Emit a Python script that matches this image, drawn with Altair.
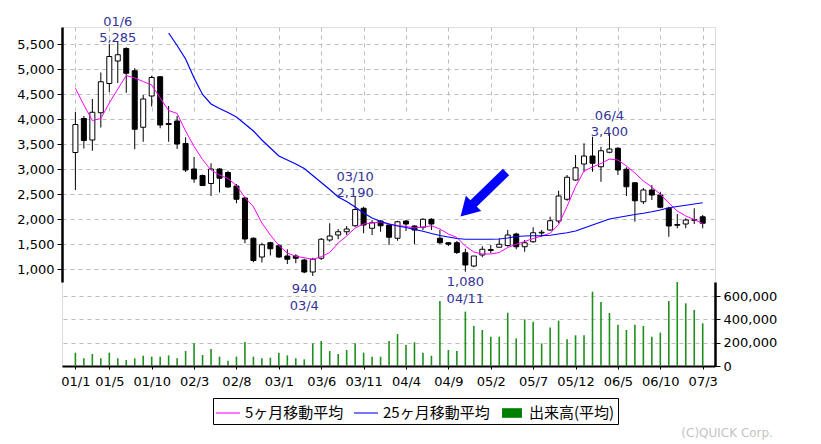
import altair as alt
import pandas as pd

# ---------------- data ----------------
months = []
for i in range(75):
    months.append(f"{1 + i // 12:02d}/{1 + i % 12}")

tick_labels = ["01/1", "01/5", "01/10", "02/3", "02/8", "03/1", "03/6", "03/11",
               "04/4", "04/9", "05/2", "05/7", "05/12", "06/5", "06/10", "07/3"]

opens = [3330, 4010, 3580, 4125, 4710, 5160, 5410, 4965, 3835, 4460,
         4845, 3910, 3960, 3510, 3000, 2870, 2710, 3000, 2930, 2660,
         2420, 1615, 1240, 1526, 1466, 1260, 1260, 1180, 940, 1215,
         1580, 1680, 1745, 1865, 2215, 1815, 1960, 1880, 1615, 1960,
         1860, 1835, 1995, 1615, 1525, 1525, 1325, 1060, 1280, 1370,
         1435, 1470, 1700, 1445, 1545, 1720, 1780, 1960, 2395, 2780,
         3100, 3260, 3045, 3335, 3415, 2995, 2725, 2345, 2580, 2480,
         2215, 1890, 1900, 1975, 2045]
highs = [4140, 4060, 4400, 4930, 5500, 5540, 5435, 5015, 4480, 4865,
         4860, 4260, 4060, 3635, 3240, 2890, 3115, 3015, 2965, 2700,
         2445, 1635, 1525, 1545, 1500, 1395, 1295, 1205, 1225, 1620,
         1915, 1800, 1860, 2445, 2245, 1980, 1980, 1895, 1965, 1980,
         1875, 2015, 2015, 1780, 1540, 1560, 1405, 1260, 1455, 1480,
         1615, 1780, 1725, 1580, 1835, 1780, 2045, 2565, 2880, 3280,
         3515, 3645, 3445, 3715, 3435, 3035, 2730, 2620, 2680, 2545,
         2245, 2100, 2015, 2215, 2080]
lows = [2580, 3410, 3365, 3830, 4540, 4720, 4525, 3395, 3545, 4250,
        3815, 3545, 3400, 2940, 2725, 2665, 2460, 2530, 2625, 2315,
        1515, 1135, 1130, 1270, 1220, 1100, 1115, 915, 860, 1180,
        1545, 1595, 1680, 1845, 1715, 1680, 1745, 1480, 1565, 1760,
        1495, 1780, 1780, 1500, 1460, 1300, 945, 1035, 1235, 1315,
        1435, 1445, 1395, 1345, 1525, 1645, 1765, 1915, 2365, 2765,
        2945, 2945, 2745, 3315, 2880, 2460, 1945, 2300, 2380, 2215,
        1645, 1815, 1815, 1900, 1815]
closes = [3890, 3570, 4135, 4745, 5250, 5285, 4915, 3795, 4400, 4830,
          3880, 3890, 3500, 2980, 2800, 2670, 3000, 2815, 2640, 2395,
          1600, 1170, 1485, 1405, 1240, 1195, 1215, 940, 1195, 1595,
          1660, 1745, 1800, 2190, 1880, 1925, 1865, 1635, 1945, 1900,
          1780, 1995, 1900, 1525, 1495, 1330, 1080, 1260, 1395, 1390,
          1495, 1680, 1445, 1525, 1725, 1735, 1965, 2460, 2835, 3025,
          3260, 3115, 3365, 3400, 2980, 2645, 2365, 2580, 2480, 2235,
          1860, 1875, 1980, 1985, 1915]
ma5 = [4613, 4280, 3970, 4010, 4320, 4600, 4870, 4820, 4750, 4680,
       4420, 4170, 4110, 3760, 3450, 3190, 2980, 2880, 2810, 2670,
       2430, 2246, 1920, 1680, 1470, 1320, 1255, 1225, 1195, 1245,
       1330, 1520, 1660, 1820, 1900, 1920, 1940, 1900, 1870, 1850,
       1820, 1840, 1865, 1800, 1700, 1630, 1460, 1340, 1300, 1300,
       1330, 1430, 1495, 1550, 1610, 1660, 1715, 1890, 2250, 2650,
       2960, 3040, 3110, 3200, 3180, 3060, 2920, 2760, 2640, 2495,
       2320, 2160, 2060, 1990, 1910]
ma25_start = 11
ma25 = [5720, 5470, 5200, 4820, 4490, 4300, 4210, 4130, 4040,
        3900, 3760, 3580, 3420, 3260, 3180, 3100, 3010, 2870, 2730,
        2590, 2440, 2350, 2240, 2120, 2020, 1950, 1900, 1860, 1830,
        1790, 1755, 1710, 1670, 1640, 1610, 1595, 1595, 1595, 1595,
        1600, 1620, 1650, 1660, 1665, 1668, 1675, 1700, 1725, 1760,
        1820, 1880, 1940, 2000, 2030, 2060, 2090, 2115, 2145, 2180,
        2225, 2250, 2275, 2300, 2325]
volume = [114, 66, 103, 66, 114, 66, 51, 66, 88, 80,
          80, 91, 66, 128, 194, 94, 146, 80, 46, 80,
          206, 80, 66, 71, 114, 91, 66, 57, 194, 214,
          128, 103, 137, 194, 114, 80, 80, 214, 274, 180,
          203, 114, 88, 557, 137, 128, 466, 343, 309, 251,
          251, 457, 237, 400, 380, 194, 331, 389, 229, 263,
          263, 637, 549, 454, 354, 309, 354, 343, 251, 286,
          557, 720, 537, 480, 366]  # thousands of shares

high_notes_idx = [5, 33, 63]
high_notes_date = ["01/6", "03/10", "06/4"]
high_notes_val = ["5,285", "2,190", "3,400"]
low_notes_idx = [27, 46]
low_notes_date = ["03/4", "04/11"]
low_notes_val = ["940", "1,080"]

arrow_shaft_x = [50.8, 46.6]
arrow_shaft_y = [2940, 2250]
arrow_head_x = [46.2]
arrow_head_y = [2182]

series_names = ["5ヶ月移動平均", "25ヶ月移動平均", "出来高(平均)"]
series_colors = ["#FF00FF", "#0000FF", "#008000"]

# ---------------- frames ----------------
n = len(months)
candles = pd.DataFrame({"idx": list(range(n)), "open": opens, "high": highs,
                        "low": lows, "close": closes, "ma5": ma5,
                        "vol": [v * 1000 for v in volume]})
ma25_df = pd.DataFrame({"idx": list(range(ma25_start, ma25_start + len(ma25))), "ma25": ma25})
hi_df = pd.DataFrame({"idx": high_notes_idx, "close": [closes[i] for i in high_notes_idx],
                      "d": high_notes_date, "v": high_notes_val})
lo_df = pd.DataFrame({"idx": low_notes_idx, "close": [closes[i] for i in low_notes_idx],
                      "d": low_notes_date, "v": low_notes_val})
shaft_df = pd.DataFrame({"idx": arrow_shaft_x, "p": arrow_shaft_y})
head_df = pd.DataFrame({"idx": arrow_head_x, "p": arrow_head_y})
legend_df = pd.DataFrame({"series": series_names, "idx": [0, 0, 0], "p": [-10000, -10000, -10000]})
copy_df = pd.DataFrame({"t": ["(C)QUICK Corp."]})

# ---------------- scales / axes ----------------
FONT = "DejaVu Sans"
GRID = "#bdbdbd"
label_expr = "[" + ",".join(f"'{m}'" for m in months) + "][datum.value]"
tick_idx = [months.index(t) for t in tick_labels]

xscale = alt.Scale(domain=[-0.99, 74.86], nice=False, zero=False)
xaxis = alt.Axis(values=tick_idx, labelExpr=label_expr, grid=True, gridColor=GRID,
                 gridDash=[4, 4], gridWidth=1, domainColor="black", domainWidth=2,
                 ticks=True, tickColor="black", tickSize=3, labelFont=FONT,
                 labelFontSize=13, labelColor="black", labelPadding=6,
                 labelOverlap=False, labelFlush=False, title=None)
X = alt.X("idx:Q", scale=xscale, axis=xaxis, title=None)

pscale = alt.Scale(domain=[740, 5840], range=[255, 0], nice=False, zero=False)
paxis = alt.Axis(orient="left", values=list(range(1000, 5501, 500)), format=",d",
                 grid=True, gridColor=GRID, gridDash=[4, 4], gridWidth=1,
                 domainColor="black", domainWidth=2.5, tickColor="black", tickSize=5,
                 labelFont=FONT, labelFontSize=13, labelColor="black", labelPadding=3,
                 title=None)


def PY(field):
    return alt.Y(field, scale=pscale, axis=paxis, title=None)


vscale = alt.Scale(domain=[0, 720000], range=[339, 255], nice=False)
vaxis = alt.Axis(orient="right", values=[0, 200000, 400000, 600000], format=",d",
                 grid=True, gridColor=GRID, gridDash=[4, 4], gridWidth=1,
                 domainColor="black", domainWidth=2.5, tickColor="black", tickSize=5,
                 labelFont=FONT, labelFontSize=13, labelColor="black", labelPadding=3,
                 title=None)

# ---------------- price layers ----------------
wicks = alt.Chart(candles).mark_rule(color="black", strokeWidth=1).encode(
    x=X, y=PY("low:Q"), y2="high:Q")
bodies = alt.Chart(candles).mark_bar(size=5, stroke="black", strokeWidth=1).encode(
    x=X, y=PY("open:Q"), y2="close:Q",
    fill=alt.condition("datum.close >= datum.open", alt.value("white"), alt.value("black")))
line5 = alt.Chart(candles).mark_line(color="#FF00FF", strokeWidth=1).encode(
    x=X, y=PY("ma5:Q"))
line25 = alt.Chart(ma25_df).mark_line(color="#0000FF", strokeWidth=1.2).encode(
    x=X, y=PY("ma25:Q"))

ann_color = "#333399"
hi_v = alt.Chart(hi_df).mark_text(font=FONT, fontSize=13, color=ann_color, dy=-13,
                                  baseline="alphabetic", align="center").encode(
    x=X, y=PY("close:Q"), text="v:N")
hi_d = alt.Chart(hi_df).mark_text(font=FONT, fontSize=13, color=ann_color, dy=-29,
                                  baseline="alphabetic", align="center").encode(
    x=X, y=PY("close:Q"), text="d:N")
lo_v = alt.Chart(lo_df).mark_text(font=FONT, fontSize=13, color=ann_color, dy=21,
                                  baseline="alphabetic", align="center").encode(
    x=X, y=PY("close:Q"), text="v:N")
lo_d = alt.Chart(lo_df).mark_text(font=FONT, fontSize=13, color=ann_color, dy=38,
                                  baseline="alphabetic", align="center").encode(
    x=X, y=PY("close:Q"), text="d:N")

shaft = alt.Chart(shaft_df).mark_line(color="#0000FF", strokeWidth=9, strokeCap="butt").encode(
    x=X, y=PY("p:Q"))
head = alt.Chart(head_df).mark_point(shape="M0,-0.85L1,0.85L-1,0.85Z", size=470, angle=225,
                                     filled=True, color="#0000FF", opacity=1).encode(
    x=X, y=PY("p:Q"))

leg = alt.Legend(orient="none", legendX=151, legendY=371, direction="horizontal", title=None,
                 labelFont="Noto Sans CJK JP", labelFontSize=15, labelColor="black",
                 labelExpr="datum.value == '出来高(平均)' ? '出来高(平均)' + '\u00a0\u00a0\u00a0\u00a0\u00a0\u00a0\u00a0\u00a0\u00a0' : datum.label",
                 symbolSize=576, symbolStrokeWidth=0, padding=3, columnPadding=10,
                 labelOffset=5, labelLimit=300, strokeColor="black", fillColor="white")
line_sym = "M-1,-0.045H1V0.045H-1Z"
dummy = alt.Chart(legend_df).mark_point(filled=True, opacity=1, clip=True).encode(
    x=X, y=PY("p:Q"),
    color=alt.Color("series:N", scale=alt.Scale(domain=series_names, range=series_colors), legend=leg),
    shape=alt.Shape("series:N", scale=alt.Scale(domain=series_names,
                    range=[line_sym, line_sym, "M-0.83,-0.4H0.83V0.4H-0.83Z"]), legend=leg))

price = alt.layer(wicks, bodies, line5, line25, shaft, head, hi_v, hi_d, lo_v, lo_d, dummy)

# ---------------- volume layer ----------------
vol = alt.Chart(candles).mark_bar(size=1.6, color="#1f8f1f").encode(
    x=X, y=alt.Y("vol:Q", scale=vscale, axis=vaxis, title=None))

copyright_txt = alt.Chart(copy_df).mark_text(font=FONT, fontSize=12, color="#c4c4c4",
                                             align="right", baseline="middle").encode(
    x=alt.value(711), y=alt.value(406), text="t:N")

chart = alt.layer(vol, price, copyright_txt).resolve_scale(y="independent").properties(
    width=653, height=339,
    autosize=alt.AutoSizeParams(type="none"),
    padding={"left": 54, "top": 19, "right": 90, "bottom": 76},
).configure_view(stroke="transparent").configure(background="white")

chart.save("out.html", embed_options={"renderer": "svg", "actions": False})
